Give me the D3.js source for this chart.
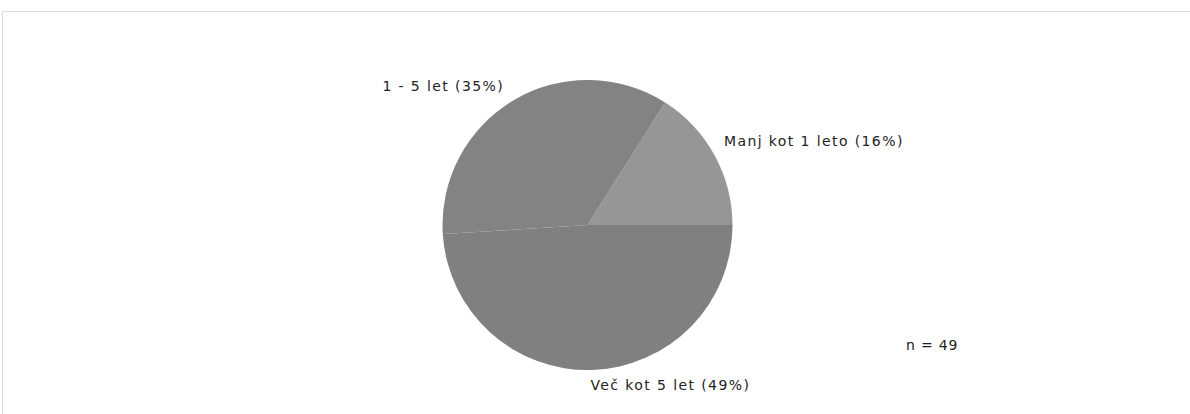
<!DOCTYPE html>
<html>
<head>
<meta charset="utf-8">
<script src="https://cdn.jsdelivr.net/npm/d3@7"></script>
<style>
  html, body { margin: 0; padding: 0; background: #fff; }
  svg { display: block; }
  text { font-family: "DejaVu Sans", Verdana, sans-serif; font-size: 14px; letter-spacing: 1.4px; fill: #222; }
</style>
</head>
<body>
<svg id="chart" width="1190" height="414"></svg>
<script>
// Survey answers: share of respondents per category (percent)
const categories = ["Manj kot 1 leto", "1 - 5 let", "Več kot 5 let"];
const percents = [16, 35, 49];
const sliceColors = ["#969696", "#838383", "#808080"];
const sampleSize = 49;

const svg = d3.select("#chart");

// light frame around the chart area
svg.append("rect")
  .attr("x", 2.5).attr("y", 11.5)
  .attr("width", 1300).attr("height", 600)
  .attr("fill", "none")
  .attr("stroke", "#dedede");

const cx = 587.5, cy = 225, radius = 145;

// slices run counter-clockwise starting at 3 o'clock
const pie = d3.pie()
  .sort(null)
  .value(d => d.value)
  .startAngle(Math.PI / 2)
  .endAngle(Math.PI / 2 - 2 * Math.PI);

const data = categories.map((c, i) => ({ name: c, value: percents[i], color: sliceColors[i] }));
const arcs = pie(data);

const arc = d3.arc().innerRadius(0).outerRadius(radius);
const g = svg.append("g").attr("transform", `translate(${cx},${cy})`);

g.selectAll("path.slice")
  .data(arcs)
  .join("path")
  .attr("class", "slice")
  .attr("d", arc)
  .attr("fill", d => d.data.color);

// labels sit just outside the rim at each slice's middle angle
const labelR = 158;
g.selectAll("text.lbl")
  .data(arcs)
  .join("text")
  .attr("class", "lbl")
  .each(function (d) {
    const a = (d.startAngle + d.endAngle) / 2;
    const x = Math.sin(a) * labelR;
    const y = -Math.cos(a) * labelR;
    const t = d3.select(this);
    t.attr("x", x >= 0 ? x - 2 : x - 3)
     .attr("y", y < 0 ? (x >= 0 ? y - 3 : y + 2) : y + 7)
     .attr("text-anchor", x >= 0 ? "start" : "end")
     .text(`${d.data.name} (${d.data.value}%)`);
  });

svg.append("text")
  .attr("x", 906).attr("y", 350)
  .style("letter-spacing", "0.8px")
  .text(`n = ${sampleSize}`);
</script>
</body>
</html>
